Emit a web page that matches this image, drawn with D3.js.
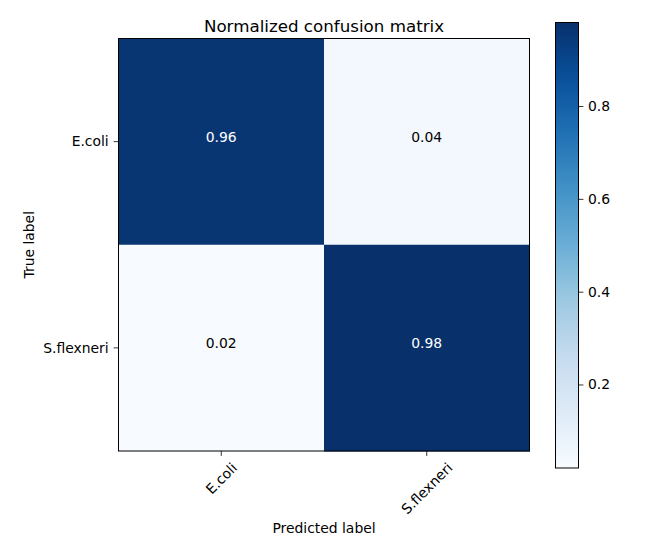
<!DOCTYPE html>
<html>
<head>
<meta charset="utf-8">
<script src="https://cdn.jsdelivr.net/npm/d3@7"></script>
<style>
  body { margin: 0; background: #fff; }
  text { font-family: "DejaVu Sans", sans-serif; fill: #000; }
</style>
</head>
<body>
<div id="chart"></div>
<script>
// datos de la matriz
const clases = ["E.coli", "S.flexneri"];
const valores = [
    [0.96, 0.04],
    [0.02, 0.98]
];
const ticksBarra = [0.2, 0.4, 0.6, 0.8];
const rangoColor = [0.02, 0.98];

// paleta Blues de matplotlib
const blues = ["#f7fbff", "#deebf7", "#c6dbef", "#9ecae1", "#6baed6",
               "#4292c6", "#2171b5", "#08519c", "#08306b"];

const width = 652, height = 544;
const m = { left: 118.5, right: 529.5, top: 38.5, bottom: 451 };

const svg = d3.select("#chart").append("svg")
    .attr("width", width)
    .attr("height", height);

const x = d3.scaleBand().domain(clases).range([m.left, m.right]);
const y = d3.scaleBand().domain(clases).range([m.top, m.bottom]);

const norm = d3.scaleLinear().domain(rangoColor).range([0, 1]);
const paleta = d3.scaleLinear()
    .domain(blues.map((_, i) => i / (blues.length - 1)))
    .range(blues)
    .interpolate(d3.interpolateRgb)
    .clamp(true);
const color = v => paleta(norm(v));

const celdas = [];
valores.forEach((fila, i) => fila.forEach((v, j) => celdas.push({ fila: clases[i], col: clases[j], v })));

svg.selectAll("rect.celda")
    .data(celdas)
    .enter().append("rect")
    .attr("class", "celda")
    .attr("x", d => x(d.col))
    .attr("y", d => y(d.fila))
    .attr("width", x.bandwidth() + 0.5)
    .attr("height", y.bandwidth() + 0.5)
    .attr("fill", d => color(d.v));

const umbral = d3.max(celdas, d => d.v) / 2;
svg.selectAll("text.valor")
    .data(celdas)
    .enter().append("text")
    .attr("class", "valor")
    .attr("x", d => x(d.col) + x.bandwidth() / 2)
    .attr("y", d => y(d.fila) + y.bandwidth() / 2)
    .attr("text-anchor", "middle")
    .attr("dy", "0.04em")
    .style("font-size", "13.9px")
    .style("fill", d => d.v > umbral ? "#fff" : "#000")
    .text(d => d.v.toFixed(2));

svg.append("rect")
    .attr("x", m.left).attr("y", m.top)
    .attr("width", m.right - m.left).attr("height", m.bottom - m.top)
    .attr("fill", "none").attr("stroke", "#000").attr("stroke-width", 1);

// eje y
const ejeY = svg.append("g");
clases.forEach(c => {
    const cy = y(c) + y.bandwidth() / 2;
    ejeY.append("line")
        .attr("x1", m.left - 4.9).attr("x2", m.left)
        .attr("y1", cy).attr("y2", cy)
        .attr("stroke", "#000").attr("stroke-width", 0.8);
    ejeY.append("text")
        .attr("x", m.left - 9.8).attr("y", cy)
        .attr("dy", "0.35em")
        .attr("text-anchor", "end")
        .style("font-size", "13.9px")
        .text(c);
});

// eje x con etiquetas giradas 45 grados
const ejeX = svg.append("g");
clases.forEach(c => {
    const cx = x(c) + x.bandwidth() / 2;
    ejeX.append("line")
        .attr("x1", cx).attr("x2", cx)
        .attr("y1", m.bottom).attr("y2", m.bottom + 4.9)
        .attr("stroke", "#000").attr("stroke-width", 0.8);
    const t = ejeX.append("text")
        .attr("text-anchor", "middle")
        .attr("dominant-baseline", "central")
        .style("font-size", "13.9px")
        .text(c);
    const w = t.node().getComputedTextLength();
    const h = 13.9 * 0.9;
    const cy = m.bottom + 9.8 + (w + h) / (2 * Math.SQRT2);
    t.attr("transform", `translate(${cx},${cy}) rotate(-45)`);
});

// títulos
svg.append("text")
    .attr("x", (m.left + m.right) / 2).attr("y", 31.5)
    .attr("text-anchor", "middle")
    .style("font-size", "16.7px")
    .text("Normalized confusion matrix");

svg.append("text")
    .attr("x", (m.left + m.right) / 2).attr("y", 533)
    .attr("text-anchor", "middle")
    .style("font-size", "13.9px")
    .text("Predicted label");

svg.append("text")
    .attr("transform", `translate(34,${(m.top + m.bottom) / 2}) rotate(-90)`)
    .attr("text-anchor", "middle")
    .style("font-size", "13.9px")
    .text("True label");

// barra de color
const barra = { x0: 555.5, x1: 578.5, top: 22.5, bottom: 468 };
const yBarra = d3.scaleLinear().domain(rangoColor).range([barra.bottom, barra.top]);

const grad = svg.append("defs").append("linearGradient")
    .attr("id", "gradBlues")
    .attr("x1", 0).attr("y1", 1).attr("x2", 0).attr("y2", 0);
d3.range(0, 1.0001, 0.05).forEach(p => {
    grad.append("stop")
        .attr("offset", p)
        .attr("stop-color", paleta(p));
});

svg.append("rect")
    .attr("x", barra.x0).attr("y", barra.top)
    .attr("width", barra.x1 - barra.x0).attr("height", barra.bottom - barra.top)
    .attr("fill", "url(#gradBlues)")
    .attr("stroke", "#000").attr("stroke-width", 1);

const ejeBarra = svg.append("g")
    .attr("transform", `translate(${barra.x1},0)`)
    .call(d3.axisRight(yBarra).tickValues(ticksBarra).tickSize(4.9).tickPadding(4.5).tickFormat(d3.format(".1f")));
ejeBarra.select(".domain").remove();
ejeBarra.selectAll("line").attr("stroke-width", 0.8);
ejeBarra.selectAll("text")
    .style("font-size", "13.9px")
    .style("font-family", "DejaVu Sans, sans-serif");
</script>
</body>
</html>
